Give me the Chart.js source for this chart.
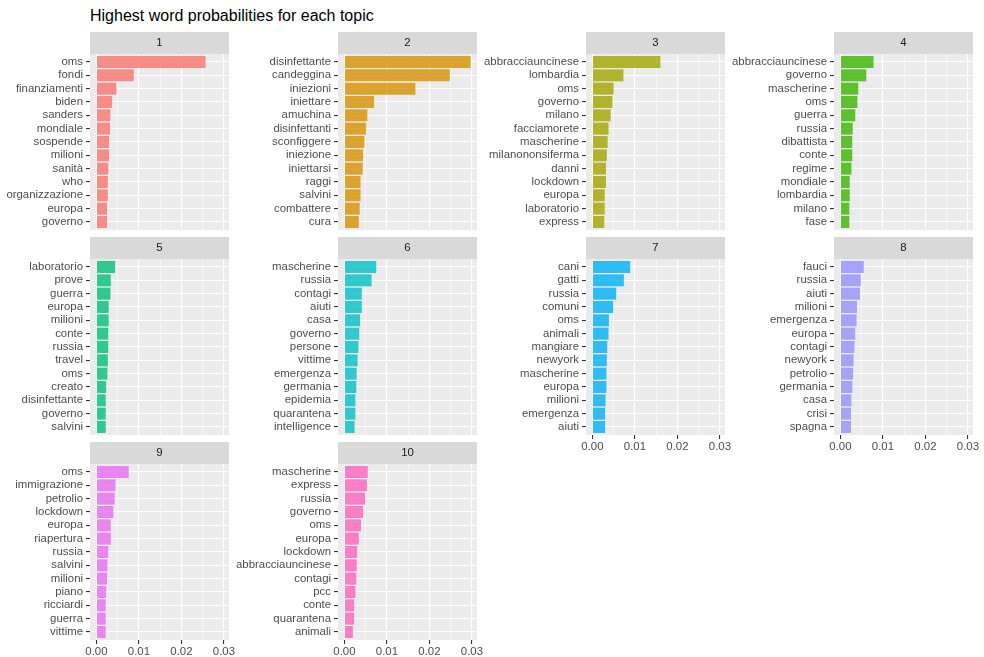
<!DOCTYPE html>
<html>
<head>
<meta charset="utf-8">
<script src="https://cdn.jsdelivr.net/npm/chart.js@4.4.1/dist/chart.umd.min.js"></script>
<style>
  html, body { margin: 0; padding: 0; background: #ffffff; }
  body { width: 984px; height: 657px; position: relative; overflow: hidden; }
  #mainTitle { position: absolute; left: 90px; top: 8px; font: 16px 'Liberation Sans', Arial, sans-serif; line-height: 16px; color: #000; white-space: nowrap; }
  canvas { position: absolute; }
</style>
</head>
<body>
<div id="mainTitle">Highest word probabilities for each topic</div>
<script>
// ---------- DATA ----------
const topicNames = ['1', '2', '3', '4', '5', '6', '7', '8', '9', '10'];
const topicColors = ['#F8766D', '#D89000', '#A3A500', '#39B600', '#00BF7D', '#00BFC4', '#00B0F6', '#9590FF', '#E76BF3', '#FF62BC'];

const topic1Words = ['oms','fondi','finanziamenti','biden','sanders','mondiale','sospende','milioni','sanità','who','organizzazione','europa','governo'];
const topic1Probs = [0.0257,0.0088,0.0047,0.0037,0.0033,0.0032,0.0030,0.0030,0.0028,0.0027,0.0027,0.0025,0.0025];

const topic2Words = ['disinfettante','candeggina','iniezioni','iniettare','amuchina','disinfettanti','sconfiggere','iniezione','iniettarsi','raggi','salvini','combattere','cura'];
const topic2Probs = [0.0297,0.0248,0.0167,0.0070,0.0054,0.0051,0.0047,0.0044,0.0043,0.0038,0.0038,0.0036,0.0034];

const topic3Words = ['abbracciauncinese','lombardia','oms','governo','milano','facciamorete','mascherine','milanononsiferma','danni','lockdown','europa','laboratorio','express'];
const topic3Probs = [0.0160,0.0073,0.0050,0.0047,0.0043,0.0038,0.0036,0.0034,0.0032,0.0032,0.0029,0.0029,0.0028];

const topic4Words = ['abbracciauncinese','governo','mascherine','oms','guerra','russia','dibattista','conte','regime','mondiale','lombardia','milano','fase'];
const topic4Probs = [0.0078,0.0061,0.0042,0.0040,0.0035,0.0029,0.0028,0.0028,0.0026,0.0022,0.0022,0.0021,0.0021];

const topic5Words = ['laboratorio','prove','guerra','europa','milioni','conte','russia','travel','oms','creato','disinfettante','governo','salvini'];
const topic5Probs = [0.0044,0.0034,0.0033,0.0029,0.0029,0.0028,0.0028,0.0027,0.0026,0.0023,0.0022,0.0022,0.0022];

const topic6Words = ['mascherine','russia','contagi','aiuti','casa','governo','persone','vittime','emergenza','germania','epidemia','quarantena','intelligence'];
const topic6Probs = [0.0075,0.0064,0.0041,0.0041,0.0037,0.0035,0.0033,0.0031,0.0029,0.0028,0.0026,0.0026,0.0024];

const topic7Words = ['cani','gatti','russia','comuni','oms','animali','mangiare','newyork','mascherine','europa','milioni','emergenza','aiuti'];
const topic7Probs = [0.0089,0.0074,0.0056,0.0049,0.0039,0.0038,0.0035,0.0034,0.0033,0.0033,0.0031,0.0030,0.0030];

const topic8Words = ['fauci','russia','aiuti','milioni','emergenza','europa','contagi','newyork','petrolio','germania','casa','crisi','spagna'];
const topic8Probs = [0.0055,0.0048,0.0046,0.0039,0.0038,0.0035,0.0033,0.0031,0.0030,0.0028,0.0026,0.0025,0.0025];

const topic9Words = ['oms','immigrazione','petrolio','lockdown','europa','riapertura','russia','salvini','milioni','piano','ricciardi','guerra','vittime'];
const topic9Probs = [0.0076,0.0045,0.0043,0.0040,0.0034,0.0034,0.0028,0.0026,0.0025,0.0023,0.0022,0.0022,0.0022];

const topic10Words = ['mascherine','express','russia','governo','oms','europa','lockdown','abbracciauncinese','contagi','pcc','conte','quarantena','animali'];
const topic10Probs = [0.0055,0.0053,0.0049,0.0044,0.0039,0.0034,0.0030,0.0029,0.0028,0.0026,0.0023,0.0023,0.0020];

const xMajorTicks = [0, 0.01, 0.02, 0.03];
const xMinorTicks = [0.005, 0.015, 0.025];
const xTickLabels = ['0.00', '0.01', '0.02', '0.03'];

// ---------- LAYOUT ----------
const allWords = [topic1Words, topic2Words, topic3Words, topic4Words, topic5Words, topic6Words, topic7Words, topic8Words, topic9Words, topic10Words];
const allProbs = [topic1Probs, topic2Probs, topic3Probs, topic4Probs, topic5Probs, topic6Probs, topic7Probs, topic8Probs, topic9Probs, topic10Probs];

Chart.defaults.font.family = "'Liberation Sans', Arial, sans-serif";

const AXIS_W = 110, PANEL_W = 139, RIGHT_PAD = 14;
const STRIP_H = 22, PANEL_H = 176, XAXIS_H = 22;
const colLeft = [90, 338, 586, 834];
const rowTop = [32, 237, 442];

function hexToRgba(hex, a) {
  const n = parseInt(hex.slice(1), 16);
  return 'rgba(' + ((n >> 16) & 255) + ',' + ((n >> 8) & 255) + ',' + (n & 255) + ',' + a + ')';
}
function isMajor(v) { return xMajorTicks.some(t => Math.abs(t - v) < 1e-9); }

const panelBg = {
  id: 'panelBg',
  beforeDraw(chart) {
    const ctx = chart.ctx, a = chart.chartArea;
    ctx.save();
    ctx.fillStyle = '#D9D9D9';
    ctx.fillRect(a.left, 0, a.right - a.left, a.top);
    ctx.fillStyle = '#EBEBEB';
    ctx.fillRect(a.left, a.top, a.right - a.left, a.bottom - a.top);
    ctx.restore();
  }
};

for (let i = 0; i < 10; i++) {
  const col = i % 4, row = Math.floor(i / 4);
  const showX = i >= 6;
  const words = allWords[i], probs = allProbs[i];
  const cv = document.createElement('canvas');
  const w = AXIS_W + PANEL_W + RIGHT_PAD;
  const h = STRIP_H + PANEL_H + (showX ? XAXIS_H : 0);
  cv.width = w; cv.height = h;
  cv.style.width = w + 'px'; cv.style.height = h + 'px';
  cv.style.left = (colLeft[col] - AXIS_W) + 'px';
  cv.style.top = rowTop[row] + 'px';
  document.body.appendChild(cv);

  new Chart(cv, {
    type: 'bar',
    data: {
      datasets: [{
        data: probs.map((v, k) => ({ x: v, y: k })),
        backgroundColor: hexToRgba(topicColors[i], 0.8),
        borderWidth: 0,
        categoryPercentage: 1,
        barPercentage: 0.9
      }]
    },
    options: {
      indexAxis: 'y',
      responsive: false,
      animation: false,
      events: [],
      layout: { padding: { top: 0, left: 0, right: RIGHT_PAD, bottom: 0 } },
      plugins: {
        legend: { display: false },
        tooltip: { enabled: false },
        title: {
          display: true,
          text: topicNames[i],
          color: '#1A1A1A',
          fullSize: false,
          font: { size: 11.4, weight: 'normal', lineHeight: 1.2 },
          padding: { top: 4.2, bottom: 4.12 }
        }
      },
      scales: {
        x: {
          type: 'linear',
          position: 'bottom',
          offset: false,
          min: -0.0015,
          max: 0.0312,
          afterBuildTicks: s => { s.ticks = xMajorTicks.concat(xMinorTicks).sort((a, b) => a - b).map(v => ({ value: v })); },
          afterFit: s => { s.height = showX ? XAXIS_H : 0; s.paddingLeft = 0; s.paddingRight = 0; },
          border: { display: false },
          grid: {
            offset: false,
            color: '#FFFFFF',
            lineWidth: c => (c.tick && isMajor(c.tick.value)) ? 1.1 : 0.55,
            drawTicks: showX,
            tickLength: 4,
            tickColor: c => (c.tick && isMajor(c.tick.value)) ? '#333333' : 'rgba(0,0,0,0)',
            tickWidth: 1.1
          },
          ticks: {
            display: showX,
            autoSkip: false,
            maxRotation: 0,
            minRotation: 0,
            padding: 1,
            color: '#4D4D4D',
            font: { size: 11.4 },
            callback: v => { const k = xMajorTicks.findIndex(t => Math.abs(t - v) < 1e-9); return k >= 0 ? xTickLabels[k] : ''; }
          }
        },
        y: {
          type: 'linear',
          position: 'left',
          offset: false,
          reverse: true,
          min: -0.6,
          max: words.length - 0.4,
          afterBuildTicks: s => { s.ticks = words.map((w, k) => ({ value: k })); },
          afterFit: s => { s.width = AXIS_W; s.paddingTop = 0; s.paddingBottom = 0; },
          border: { display: false },
          grid: {
            offset: false,
            color: '#FFFFFF',
            lineWidth: 1.1,
            drawTicks: true,
            tickLength: 4,
            tickColor: '#333333',
            tickWidth: 1.1
          },
          ticks: {
            autoSkip: false,
            padding: 3,
            color: '#4D4D4D',
            font: { size: 11.4 },
            callback: v => words[Math.round(v)]
          }
        }
      }
    },
    plugins: [panelBg]
  });
}
</script>
</body>
</html>
